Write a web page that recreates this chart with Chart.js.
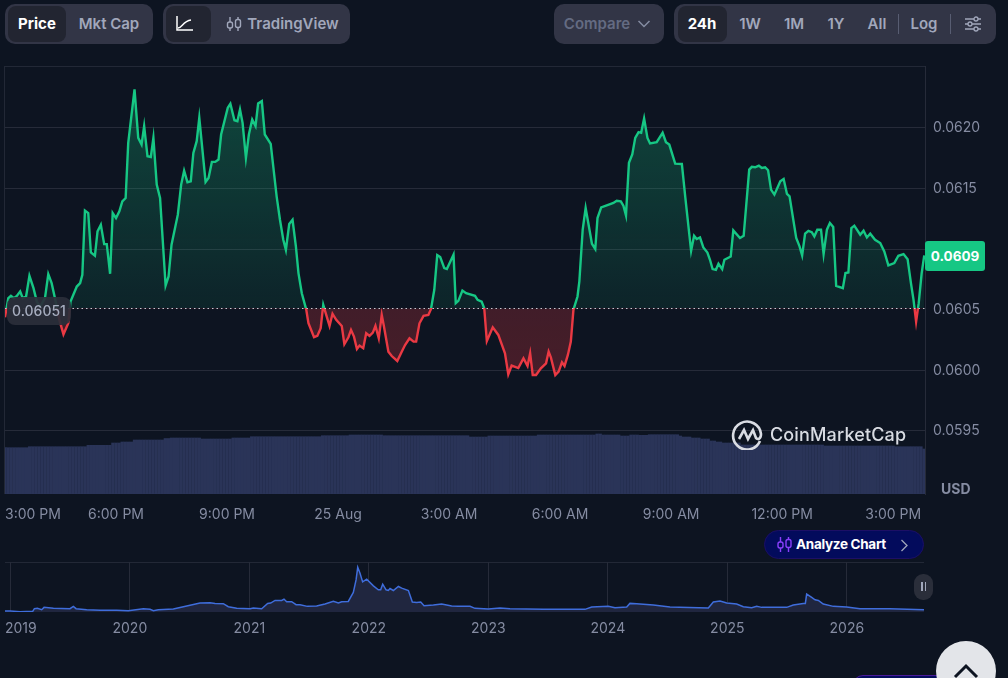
<!DOCTYPE html>
<html>
<head>
<meta charset="utf-8">
<script src="https://cdn.jsdelivr.net/npm/chart.js@4"></script>
<style>
html, body { margin: 0; height: 100%; background: #0d1421; overflow: hidden; }
body { position: relative; width: 1008px; height: 678px; font-family: Inter, "Noto Sans", sans-serif; font-size: 14px; }
canvas { position: absolute; left: 0; }
.abs { position: absolute; }
.grp { position: absolute; top: 4px; height: 40px; background: #323546; border-radius: 10px; }
.act { position: absolute; top: 6px; height: 36px; background: #222531; border-radius: 8px; }
.t { position: absolute; top: 23px; transform: translate(-50%, -50%); color: #a1a7bb; font-size: 15px; font-weight: 600; white-space: nowrap; }
.t.on { color: #fff; font-weight: 700; }
.sep { position: absolute; top: 14px; width: 1px; height: 20px; background: #585d72; }
#plotBox { position: absolute; left: 4px; top: 66px; width: 921px; height: 428px; border: 1px solid #222836; border-right: 0; box-sizing: border-box; }
#miniTop { position: absolute; left: 5px; top: 562px; width: 919px; height: 1px; background: #222836; }
#openTag { position: absolute; left: 7px; top: 297px; width: 64px; height: 28px; line-height: 28px; text-align: center; border-radius: 8px; background: rgba(43,46,58,.93); color: #a6adbf; font-weight: 500; }
#lastTag { position: absolute; left: 925px; top: 241px; width: 60px; height: 30px; line-height: 31px; text-align: center; border-radius: 3px; background: #16c784; color: #fff; font-size: 13.5px; font-weight: 700; }
#usd { position: absolute; left: 941px; top: 480px; color: #858ca2; font-weight: 700; }
#brand { position: absolute; left: 770px; top: 424px; color: #d9dce3; font-size: 18px; font-weight: 500; letter-spacing: .15px; }
#analyze { position: absolute; left: 764px; top: 530px; width: 160px; height: 29px; border-radius: 15px; background: #030b5c; border: 1px solid #1c0f66; box-sizing: border-box; }
#analyze span { position: absolute; left: 31px; top: 5px; color: #fff; font-size: 13.5px; font-weight: 700; letter-spacing: -.3px; white-space: nowrap; }
#pause { position: absolute; left: 914px; top: 574px; width: 19px; height: 26px; border-radius: 9px; background: #2a2e3a; }
#pause i { position: absolute; top: 8px; width: 1.5px; height: 9px; background: #a1a7bb; }
#upBtn { position: absolute; left: 936px; top: 641px; width: 60px; height: 60px; border-radius: 50%; background: #e3e5e9; }
#sliver { position: absolute; left: 853px; top: 675px; width: 90px; height: 20px; border-radius: 10px 0 0 0; background: #050c5e; border-top: 1px solid #4a1a9a; }
</style>
</head>
<body>

<div class="grp" style="left:5px;width:148px"></div>
<div class="act" style="left:8px;width:58px"></div>
<span class="t on" style="left:37px">Price</span>
<span class="t" style="left:109px">Mkt Cap</span>

<div class="grp" style="left:163px;width:187px"></div>
<div class="act" style="left:166px;width:45px"></div>
<svg class="abs" style="left:176px;top:15px" width="18" height="17" fill="none" stroke="#fff" stroke-width="1.5"><path d="M1 1v14h16M2 13c4 0 5-7 13-8"/></svg>
<svg class="abs" style="left:225px;top:16px" width="18" height="16" fill="none" stroke="#a1a7bb" stroke-width="1.4"><path d="M5 1v14M13 1v14"/><rect x="2.5" y="6" width="5" height="6" rx="2" fill="#323546"/><rect x="10.5" y="3.5" width="5" height="8" rx="2" fill="#323546"/></svg>
<span class="t" style="left:293px">TradingView</span>

<div class="grp" style="left:554px;width:110px"></div>
<span class="t" style="left:597px;color:#646b82">Compare</span>
<svg class="abs" style="left:637px;top:19px" width="14" height="10" fill="none" stroke="#858ca2" stroke-width="1.5"><path d="M1.5 2l5.5 5.5L12.5 2"/></svg>

<div class="grp" style="left:674px;width:322px"></div>
<div class="act" style="left:678px;width:49px"></div>
<span class="t on" style="left:702px">24h</span>
<span class="t" style="left:750px">1W</span>
<span class="t" style="left:794px">1M</span>
<span class="t" style="left:836px">1Y</span>
<span class="t" style="left:877px">All</span>
<div class="sep" style="left:898px"></div>
<span class="t" style="left:924px">Log</span>
<div class="sep" style="left:950px"></div>
<svg class="abs" style="left:965px;top:16px" width="17" height="16" fill="none" stroke="#a1a7bb" stroke-width="1.3"><path d="M0 3h16M0 8h16M0 13h16"/><circle cx="11" cy="3" r="2" fill="#323546"/><circle cx="5" cy="8" r="2" fill="#323546"/><circle cx="11" cy="13" r="2" fill="#323546"/></svg>

<div id="plotBox"></div>
<div id="miniTop"></div>
<canvas id="priceChart" width="1008" height="540" style="top:0"></canvas>
<canvas id="overviewChart" width="1008" height="100" style="top:550px"></canvas>

<div id="openTag">0.06051</div>
<div id="lastTag">0.0609</div>
<div id="usd">USD</div>
<svg class="abs" style="left:731px;top:419px" width="32" height="31" fill="none" stroke="#d9dce3" stroke-width="2.6"><path d="M29 22A14 14 0 1 1 30 15c0 5-3 6-5 4l-3-8-5 9-4-9-5 9"/></svg>
<div id="brand">CoinMarketCap</div>
<div id="analyze">
  <svg class="abs" style="left:11px;top:6px" width="17" height="15" fill="none" stroke="#8a3ffc" stroke-width="1.4"><path d="M4.5 0v15M12.5 0v15"/><rect x="2" y="5" width="5" height="6" rx="2" fill="#030b5c"/><rect x="10" y="2.500" width="5" height="8" rx="2" fill="#030b5c"/></svg>
  <span>Analyze Chart</span>
  <svg class="abs" style="left:135px;top:8px" width="9" height="13" fill="none" stroke="#a1a7bb" stroke-width="1.3"><path d="M1.500 1l5.500 5.500L1.500 12"/></svg>
</div>
<div id="pause"><i style="left:7px"></i><i style="left:10.500px"></i></div>
<div id="sliver"></div>
<div id="upBtn"><svg class="abs" style="left:17px;top:22px" width="26" height="16" fill="none" stroke="#0d1421" stroke-width="3"><path d="M2 14L13 3l11 11"/></svg></div>

<script>
// hours since 3:00 PM, one entry per price vertex
const priceHours = [
  0, .05, .09, .16, .24, .32, .41, .48, .57, .66, .77, .86, .95, 1.08, 1.17, 1.26, 1.35, 1.47, 1.58, 1.71,
  1.77, 1.94, 2.03, 2.09, 2.16, 2.25, 2.32, 2.43, 2.5, 2.59, 2.68, 2.75, 2.84, 2.91, 3, 3.09, 3.17, 3.26, 3.33, 3.5,
  3.6, 3.69, 3.76, 3.85, 3.94, 4.01, 4.1, 4.19, 4.34, 4.42, 4.5, 4.67, 4.76, 4.84, 4.93, 5.02, 5.09, 5.18, 5.25, 5.42,
  5.5, 5.59, 5.68, 5.77, 5.84, 6.02, 6.09, 6.2, 6.28, 6.35, 6.42, 6.51, 6.59, 6.68, 6.77, 6.84, 6.94, 7.02, 7.18, 7.34,
  7.43, 7.52, 7.59, 7.68, 7.77, 7.86, 7.93, 8.02, 8.14,
  8.2, 8.35, 8.44, 8.53, 8.6, 8.68, 8.77, 8.85, 8.95, 9.1, 9.17, 9.28, 9.35, 9.43, 9.51, 9.58, 9.68, 9.76, 9.85, 9.94,
  10.01, 10.1, 10.18, 10.24, 10.36, 10.45, 10.6, 10.72, 10.81, 10.93, 11.04, 11.11, 11.2, 11.31, 11.44, 11.51, 11.6, 11.68, 11.76, 11.87,
  11.94, 12.12, 12.18, 12.25, 12.36, 12.46, 12.7, 12.77, 12.88, 12.95, 13.02, 13.18, 13.33, 13.51, 13.6, 13.69, 13.87, 14.01, 14.12, 14.19,
  14.26, 14.35, 14.48, 14.62, 14.69, 14.75, 14.87, 14.96, 15.05, 15.12, 15.21, 15.29, 15.36,
  15.47, 15.52, 15.61, 15.69, 15.77, 15.86, 15.95, 16.01, 16.11, 16.26, 16.44, 16.53, 16.64, 16.71, 16.78, 16.86, 16.95, 17.03, 17.12, 17.19,
  17.27, 17.36, 17.43, 17.61, 17.77, 17.86, 17.95, 18.11, 18.29, 18.38, 18.54, 18.62, 18.69, 18.78, 18.87, 18.98, 19.05, 19.12, 19.21, 19.28,
  19.38, 19.44, 19.61, 19.68, 19.86, 19.96, 20.11, 20.18, 20.27, 20.37, 20.45, 20.54, 20.62, 20.7, 20.79, 20.95, 21.04, 21.13, 21.2, 21.38,
  21.47, 21.54, 21.62, 21.71, 21.8, 21.87, 21.95, 22.05, 22.12, 22.21, 22.29, 22.38, 22.46, 22.64, 22.71, 22.79, 22.87, 22.95, 23.11, 23.2,
  23.29, 23.38, 23.51, 23.65, 23.76, 23.87, 24.03, 24.14, 24.28, 24.39, 24.48, 24.55, 24.62, 24.69, 24.77, 24.84
];
const priceValues = [
  .060438, .060526, .060595, .060614, .060595, .060614, .06065, .060595, .060609, .06078, .060678, .060567, .060526, .060595, .060793, .060719, .060595, .060416, .060297, .060388,
  .060567, .060691, .060719, .060788, .061317, .061297, .060972, .060945, .061146, .061201, .061041, .061041, .060796, .061297, .061256, .061311, .061394, .061421, .061876, .062317,
  .061917, .061862, .062014, .061766, .06176, .061917, .061532, .061421, .0607, .060774, .061036, .061284, .061532, .061647, .061551, .061559, .061793, .06189, .062083, .061554,
  .061587, .061719, .061719, .061738, .061945, .062165, .062198, .062063, .062055, .062152, .062041, .061752, .061945, .062069, .062014, .062201, .06222, .061945, .061868, .061435,
  .061242, .061077, .060994, .061207, .061242, .061022, .060802, .060636, .060501,
  .060388, .060273, .060284, .060347, .06054, .060457, .060366, .060466, .060416, .060366, .060215, .060273, .060333, .060278, .060176, .060204, .060182, .060306, .060284, .060311,
  .060366, .060264, .060457, .060361, .060154, .060118, .060077, .060154, .060209, .060264, .060237, .060237, .060388, .060449, .060457, .060504, .060664, .06095, .060934, .060843,
  .060835, .060953, .060554, .060573, .060658, .060636, .060614, .060581, .060567, .060512, .060242, .060355, .060292, .06014, .059967, .060039, .060019, .060099, .060036, .06014,
  .059961, .059961, .060016, .060058, .060154, .060107, .059961, .059989, .060066, .060036, .060127, .060237, .060499,
  .060609, .060733, .06116, .061339, .061201, .061044, .061, .061256, .061344, .061361, .06138, .061399, .061394, .061358, .061278, .061711, .06178, .061917, .061964, .061959,
  .062077, .061917, .061871, .061882, .061959, .061882, .061862, .061705, .061702, .061435, .060986, .06111, .061083, .061096, .061014, .060972, .060912, .060835, .060829, .060879,
  .060835, .060912, .060939, .061154, .061091, .06111, .061656, .061678, .061675, .061689, .061669, .061675, .06165, .06149, .061449, .061559, .061578, .061455, .061435, .061091,
  .061022, .060948, .061127, .061151, .06114, .061105, .06116, .06116, .060959, .06116, .061215, .061182, .060697, .060678, .060802, .060807, .061173, .061193, .061118, .061151,
  .061096, .061127, .061077, .06105, .060981, .060865, .060884, .060945, .060959, .060917, .060719, .060581, .060402, .060554, .060802, .060948
];
const openPrice = 0.06051;

// volume bars, one per 5 minutes, arbitrary units
const volumeValues = [
  46.3, 46.3, 46.3, 46.3, 46.3, 46.3, 46.3, 46.3, 47.3, 47.3, 47.3, 47.3, 47.3, 47.3, 47.3, 47.3, 47.3, 47.3, 47.3, 47.3, 47.3, 47.3, 47.3, 47.3, 47.3, 47.3, 47.3,
  48.7, 48.7, 48.7, 48.7, 48.7, 48.7, 48.7, 48.7, 51, 51, 51, 52, 52, 52, 52, 54, 54, 54, 54, 54, 54, 54, 54, 54, 54, 55.5, 55.5,
  56, 56, 56, 56, 56, 56, 56, 56, 56, 56, 55, 55, 55, 55, 55, 55, 55, 55, 55, 55, 56, 56, 56, 56, 56, 56,
  57.3, 57.3, 57.3, 57.3, 57.3, 57.3, 57.3, 57.3, 57.3, 57.3, 57.3, 57.3, 57.3, 57.3, 57.3, 57.3, 57.3, 57.3, 57.3, 57.3, 57.3, 57.3, 57.3,
  58.3, 58.3, 58.3, 58.3, 58.3, 58.3, 58.3, 58.3, 58.3, 59, 59, 59, 59, 59, 59, 59, 59, 59, 59, 59,
  58.3, 58.3, 58.3, 58.3, 58.3, 58.3, 58.3, 58.3, 58.3, 58.3, 58.3, 58.3, 58.3, 58.3, 58.3, 58.3, 58.3, 58.3, 58.3, 58.3, 58.3, 58.3, 58.3, 58.3, 58.3, 58.3, 58.3, 58.3,
  57, 57, 57, 57, 57, 57, 58, 58, 58, 58, 58, 58, 58, 58, 58, 58, 58, 58, 58, 58, 58, 58,
  59, 59, 59, 59, 59, 59, 59, 59, 59, 59, 59, 59, 59, 59, 59, 59, 59, 59, 59, 60, 60, 59, 59, 59, 59, 59, 59, 58, 58, 58, 59, 59, 59,
  58.7, 58.7, 58.7, 59.3, 59.3, 59.3, 59.3, 59.3, 59.3, 59.3, 59.3, 59.3, 59.3, 58, 57, 57, 57, 56, 56, 56, 55, 55, 55, 53, 53, 52, 52, 51, 51, 51, 51, 51, 51,
  49, 49, 49, 49, 49, 49, 49, 49, 49, 49, 49, 49, 49, 49, 49, 49, 49, 49, 49, 49, 49, 49, 49, 49, 49, 49, 49,
  48, 48, 48, 48, 48, 48, 48, 48, 48, 48, 48, 48, 48, 48, 48, 48, 48, 48, 48, 48, 48, 48, 48,
  47.3, 47.3, 47.3, 47.3, 47.3, 47.3, 47.3, 47.3, 47.3, 45
];

const timeTicks = [0, 3, 6, 9, 12, 15, 18, 21, 24, 24.86];
const timeLabels = ['3:00 PM', '6:00 PM', '9:00 PM', '25 Aug', '3:00 AM', '6:00 AM', '9:00 AM', '12:00 PM', '3:00 PM', ''];
const priceTicks = [0.0595, 0.06, 0.0605, 0.061, 0.0615, 0.062];

// all-time overview line
const overviewYears = [
  2018.955, 2018.997, 2019.081, 2019.187, 2019.201, 2019.226, 2019.262, 2019.282, 2019.36, 2019.499, 2019.527, 2019.55, 2019.639, 2019.75, 2019.89, 2019.987,
  2020.113, 2020.169, 2020.197, 2020.238, 2020.364, 2020.448, 2020.587, 2020.671, 2020.713, 2020.782, 2020.824, 2020.894,
  2021.006, 2021.033, 2021.103, 2021.153, 2021.178, 2021.215, 2021.271, 2021.29, 2021.312, 2021.354, 2021.391, 2021.424, 2021.485, 2021.563, 2021.633, 2021.703, 2021.745, 2021.773, 2021.828, 2021.87, 2021.893, 2021.907, 2021.926, 2021.948, 2021.982,
  2022.038, 2022.079, 2022.099, 2022.116, 2022.144, 2022.163, 2022.177, 2022.205, 2022.247, 2022.275, 2022.331, 2022.364, 2022.4, 2022.434, 2022.462, 2022.54, 2022.609, 2022.693, 2022.749, 2022.847, 2022.888,
  2023, 2023.098, 2023.181, 2023.46, 2023.809, 2023.865, 2024.004, 2024.06, 2024.158, 2024.185, 2024.241, 2024.381, 2024.52, 2024.841, 2024.883, 2024.939, 2024.995,
  2025.078, 2025.134, 2025.204, 2025.246, 2025.287, 2025.497, 2025.552, 2025.636, 2025.653, 2025.664, 2025.706, 2025.734, 2025.762, 2025.803, 2025.887, 2025.999, 2026.11, 2026.361, 2026.646
];
const overviewValues = [
  3, 3, 1, 2, 10, 11, 7, 14, 11, 10, 17, 10, 7, 5, 5, 4,
  10, 8, 4, 7, 9, 16, 27, 28, 26, 25, 16, 11,
  10, 12, 10, 26, 27, 35, 35, 39, 31, 31, 22, 22, 17, 18, 24, 32, 27, 31, 32, 59, 97, 135, 117, 91, 99,
  79, 67, 67, 84, 67, 65, 71, 65, 77, 72, 65, 30, 29, 30, 19, 21, 24, 18, 17, 17, 11,
  9, 12, 10, 8, 8, 15, 17, 13, 15, 26, 25, 21, 15, 12, 30, 33, 27,
  24, 16, 13, 17, 14, 14, 21, 26, 26, 54, 44, 37, 35, 24, 17, 15, 10, 10, 7
];
const overviewTicks = [2018.955, 2019, 2020, 2021, 2022, 2023, 2024, 2025, 2026, 2026.646];
const overviewLabels = ['2019', '', '2020', '2021', '2022', '2023', '2024', '2025', '2026', ''];

const VERDE = '#16c784';
const VERMELHO = '#ea3943';
const TEXTO_EIXO = '#858ca2';
const GRADE = '#262b39';

// hard colour stop at the opening price, so the line and area flip exactly there
function gradienteAbertura(chart, stops) {
  const { ctx, chartArea, scales } = chart;
  if (!chartArea) return VERDE;
  const g = ctx.createLinearGradient(0, chartArea.top, 0, chartArea.bottom);
  const corte = (scales.y.getPixelForValue(openPrice) - chartArea.top) / chartArea.height;
  g.addColorStop(0, stops[0]);
  g.addColorStop(corte, stops[1]);
  g.addColorStop(corte, stops[2]);
  g.addColorStop(1, stops[3]);
  return g;
}

// the x axis must not reserve room for its outer labels
function semFolgaLateral(s, altura) {
  s.height = altura;
  s.paddingLeft = 0;
  s.paddingRight = 0;
}

new Chart(document.getElementById('priceChart'), {
  data: {
    datasets: [
      {
        type: 'line',
        data: priceHours.map((h, i) => ({ x: h, y: priceValues[i] })),
        borderColor: c => gradienteAbertura(c.chart, [VERDE, VERDE, VERMELHO, VERMELHO]),
        backgroundColor: c => gradienteAbertura(c.chart, ['rgba(22,199,132,.3)', 'rgba(22,199,132,.09)', 'rgba(234,57,67,.24)', 'rgba(234,57,67,.3)']),
        borderWidth: 2.4,
        pointRadius: 0,
        tension: 0,
        fill: { value: openPrice },
        order: 1
      },
      {
        type: 'line',
        data: [{ x: 0, y: openPrice }, { x: 24.86, y: openPrice }],
        borderColor: '#c9ccd4',
        borderWidth: 1,
        borderDash: [1.5, 3],
        pointRadius: 0,
        fill: false,
        order: 0
      },
      {
        type: 'bar',
        yAxisID: 'yVol',
        data: volumeValues.map((v, i) => ({ x: i / 12, y: v })),
        backgroundColor: '#2a3458',
        barThickness: 2.7,
        order: 2
      }
    ]
  },
  options: {
    responsive: false,
    animation: false,
    layout: { padding: { top: 66, left: 5 } },
    plugins: { legend: { display: false }, tooltip: { enabled: false } },
    scales: {
      x: {
        type: 'linear',
        min: 0,
        max: 24.86,
        offset: false,
        afterBuildTicks: s => { s.ticks = timeTicks.map(v => ({ value: v })); },
        afterFit: s => semFolgaLateral(s, 46),
        grid: { display: false, offset: false },
        border: { display: false },
        ticks: {
          autoSkip: false,
          maxRotation: 0,
          align: 'inner',
          padding: 4,
          color: TEXTO_EIXO,
          font: { family: 'Inter', size: 14 },
          callback: (v, i) => timeLabels[i]
        }
      },
      y: {
        position: 'right',
        min: 0.05898,
        max: 0.06251,
        afterBuildTicks: s => { s.ticks = priceTicks.map(v => ({ value: v })); },
        afterFit: s => { s.width = 83; },
        grid: {
          drawTicks: false,
          color: c => (c.tick && c.tick.value === 0.0605 ? 'transparent' : GRADE)
        },
        border: { color: GRADE },
        ticks: {
          padding: 8,
          crossAlign: 'near',
          color: TEXTO_EIXO,
          font: { family: 'Inter', size: 14 },
          callback: v => v.toFixed(4)
        }
      },
      yVol: { display: false, min: 0, max: 428 }
    }
  }
});

new Chart(document.getElementById('overviewChart'), {
  type: 'line',
  data: {
    datasets: [{
      data: overviewYears.map((a, i) => ({ x: a, y: overviewValues[i] })),
      borderColor: '#3f6ddb',
      backgroundColor: '#20263f',
      borderWidth: 1.5,
      pointRadius: 0,
      tension: 0,
      fill: 'origin'
    }]
  },
  options: {
    responsive: false,
    animation: false,
    layout: { padding: { top: 12, left: 5, right: 84 } },
    plugins: { legend: { display: false }, tooltip: { enabled: false } },
    scales: {
      x: {
        type: 'linear',
        min: 2018.955,
        max: 2026.646,
        afterBuildTicks: s => { s.ticks = overviewTicks.map(v => ({ value: v })); },
        afterFit: s => semFolgaLateral(s, 38),
        grid: {
          drawTicks: false,
          color: c => (c.tick && Number.isInteger(c.tick.value) ? GRADE : 'transparent')
        },
        border: { display: false },
        ticks: {
          autoSkip: false,
          maxRotation: 0,
          align: 'inner',
          padding: 8,
          color: TEXTO_EIXO,
          font: { family: 'Inter', size: 14 },
          callback: (v, i) => overviewLabels[i]
        }
      },
      y: { display: false, min: 0, max: 151 }
    }
  }
});
</script>
</body>
</html>
